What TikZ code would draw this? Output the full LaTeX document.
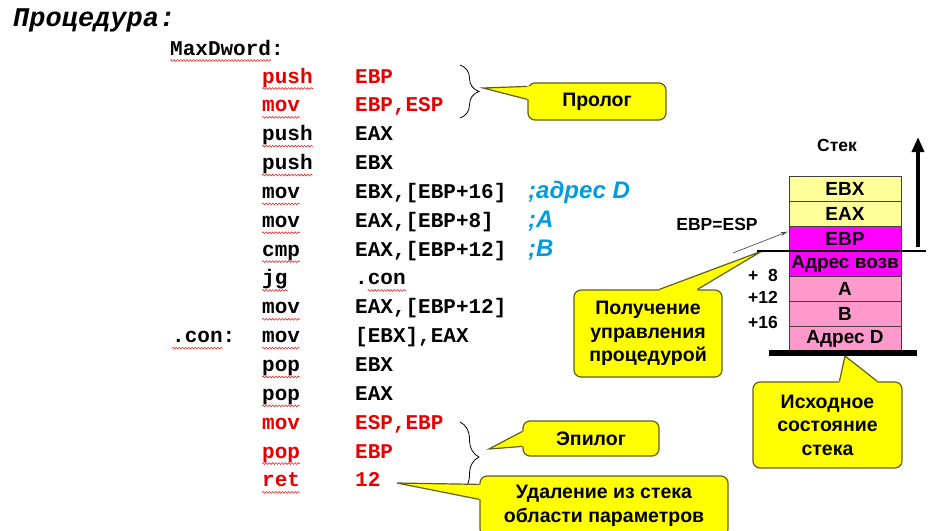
\documentclass[tikz,border=0pt]{standalone}
\usepackage{fontspec}
\setmainfont{Liberation Sans}
\newfontfamily\codefont{Liberation Mono}
\usetikzlibrary{calc,arrows.meta,decorations.pathmorphing,decorations.pathreplacing}

\definecolor{codered}{RGB}{232,0,0}
\definecolor{spellred}{RGB}{235,40,40}
\definecolor{cmtblue}{RGB}{0,156,222}
\definecolor{calloutfill}{RGB}{255,255,0}
\definecolor{calloutline}{RGB}{95,95,25}
\definecolor{cellyellow}{RGB}{255,255,153}
\definecolor{cellmagenta}{RGB}{255,0,255}
\definecolor{cellpink}{RGB}{255,153,204}

\begin{document}
\begin{tikzpicture}[x=1pt,y=-1pt,
  codetxt/.style={anchor=base west,inner sep=0pt,font=\codefont\bfseries\fontsize{21}{21}\selectfont},
  redcode/.style={codetxt,text=codered},
  titletxt/.style={anchor=base west,inner sep=0pt,font=\codefont\bfseries\itshape\fontsize{27}{27}\selectfont},
  cmt/.style={anchor=base west,inner sep=0pt,text=cmtblue,font=\bfseries\itshape\fontsize{24}{24}\selectfont},
  spellwave/.style={draw=spellred,line width=0.6pt,decorate,decoration={snake,amplitude=0.9pt,segment length=3.2pt}},
  codebrace/.style={draw=black,line width=0.8pt,decorate,decoration={brace,amplitude=19pt}},
  callbox/.style={fill=calloutfill,draw=calloutline,line width=1.2pt,rounded corners=7pt,inner sep=0pt,align=center,font=\bfseries\fontsize{19.5}{23.5}\selectfont},
  calledge/.style={draw=calloutline,line width=1.2pt},
  stackcell/.style={draw=black!75,line width=0.7pt,minimum width=112pt,minimum height=25pt,inner sep=0pt,font=\bfseries\fontsize{19}{19}\selectfont},
  stacklabel/.style={inner sep=0pt,font=\bfseries\fontsize{17.5}{17.5}\selectfont},
]
\useasboundingbox (0,0) rectangle (936,530);
\clip (0,0) rectangle (936,530);

% ---------- procedure listing ----------
\node[titletxt] (title) at (13,27) {Процедура:};
\node[codetxt] (lbl) at (170,55) {MaxDword:};

\node[redcode] (op1) at (262,83) {push};
\node[redcode] (arg1) at (355,83) {EBP};
\node[redcode] (op2) at (262,111.85) {mov};
\node[redcode] (arg2) at (355,111.85) {EBP,ESP};
\node[codetxt] (op3) at (262,140.7) {push};
\node[codetxt] (arg3) at (355,140.7) {EAX};
\node[codetxt] (op4) at (262,169.55) {push};
\node[codetxt] (arg4) at (355,169.55) {EBX};
\node[codetxt] (op5) at (262,198.4) {mov};
\node[codetxt] (arg5) at (355,198.4) {EBX,[EBP+16]};
\node[cmt] (cmt5) at (528,198.4) {;адрес D};
\node[codetxt] (op6) at (262,227.25) {mov};
\node[codetxt] (arg6) at (355,227.25) {EAX,[EBP+8]};
\node[cmt] (cmt6) at (528,227.25) {;A};
\node[codetxt] (op7) at (262,256.1) {cmp};
\node[codetxt] (arg7) at (355,256.1) {EAX,[EBP+12]};
\node[cmt] (cmt7) at (528,256.1) {;B};
\node[codetxt] (op8) at (262,284.95) {jg};
\node[codetxt] (arg8) at (355,284.95) {.con};
\node[codetxt] (op9) at (262,313.8) {mov};
\node[codetxt] (arg9) at (355,313.8) {EAX,[EBP+12]};
\node[codetxt] (lbl10) at (172,342.65) {.con:};
\node[codetxt] (op10) at (262,342.65) {mov};
\node[codetxt] (arg10) at (355,342.65) {[EBX],EAX};
\node[codetxt] (op11) at (262,371.5) {pop};
\node[codetxt] (arg11) at (355,371.5) {EBX};
\node[codetxt] (op12) at (262,400.35) {pop};
\node[codetxt] (arg12) at (355,400.35) {EAX};
\node[redcode] (op13) at (262,429.2) {mov};
\node[redcode] (arg13) at (355,429.2) {ESP,EBP};
\node[redcode] (op14) at (262,458.05) {pop};
\node[redcode] (arg14) at (355,458.05) {EBP};
\node[redcode] (op15) at (262,486.9) {ret};
\node[redcode] (arg15) at (355,486.9) {12};

% spell-check waves under the mnemonics
\foreach \n in {op1,op2,op3,op4,op5,op6,op7,op8,op9,op10,op11,op12,op14,op15}
  \draw[spellwave] ([yshift=-5.5pt]\n.base west) -- ([yshift=-5.5pt]\n.base east);
\draw[spellwave] ([yshift=-5.5pt]lbl.base west) -- ([yshift=-5.5pt,xshift=-12.6pt]lbl.base east);
\draw[spellwave] ([yshift=-5.5pt,xshift=12.6pt]arg8.base west) -- ([yshift=-5.5pt]arg8.base east);
\draw[spellwave] ([yshift=-5.5pt]lbl10.base west) -- ([yshift=-5.5pt,xshift=-12.6pt]lbl10.base east);

% braces grouping prologue and epilogue
\coordinate (proTop) at (460,65);
\coordinate (proBot) at (460,118);
\draw[codebrace] (proTop) -- (proBot);
\coordinate (epiTop) at (460,422);
\coordinate (epiBot) at (460,492);
\draw[codebrace] (epiTop) -- (epiBot);

% ---------- callouts ----------
% Prologue
\node[callbox,minimum width=138pt,minimum height=37pt] (prolog) at (597,101.5) {Пролог};
\coordinate (prologTip) at (483,88);
\coordinate (prologA) at ($(prolog.north west)+(0,4)$);
\coordinate (prologB) at ($(prolog.north west)+(0,17)$);
\fill[calloutfill] (prologTip) -- (prologA) -- ($(prologA)+(3,0)$) -- ($(prologB)+(3,0)$) -- (prologB) -- cycle;
\draw[calledge] (prologA) -- (prologTip) -- (prologB);

% Epilogue
\node[callbox,minimum width=136pt,minimum height=35pt] (epilog) at (591,438.5) {Эпилог};
\coordinate (epilogTip) at (489,449);
\coordinate (epilogA) at ($(epilog.north west)+(0,11)$);
\coordinate (epilogB) at ($(epilog.north west)+(0,26)$);
\fill[calloutfill] (epilogTip) -- (epilogA) -- ($(epilogA)+(3,0)$) -- ($(epilogB)+(3,0)$) -- (epilogB) -- cycle;
\draw[calledge] (epilogA) -- (epilogTip) -- (epilogB);

% Parameter removal
\node[callbox,minimum width=248pt,minimum height=60pt] (cleanup) at (604,506) {Удаление из стека\\области параметров};
\coordinate (cleanupTip) at (397,483);
\coordinate (cleanupA) at ($(cleanup.north west)+(0,9)$);
\coordinate (cleanupB) at ($(cleanup.north west)+(0,24)$);
\fill[calloutfill] (cleanupTip) -- (cleanupA) -- ($(cleanupA)+(3,0)$) -- ($(cleanupB)+(3,0)$) -- (cleanupB) -- cycle;
\draw[calledge] (cleanupA) -- (cleanupTip) -- (cleanupB);

% Entering the procedure
\node[callbox,minimum width=148pt,minimum height=87pt] (entry) at (648,333.5) {Получение\\управления\\процедурой};
\coordinate (entryTip) at (762,251);
\coordinate (entryA) at ($(entry.north west)+(86,0)$);
\coordinate (entryB) at ($(entry.north west)+(124,0)$);
\fill[calloutfill] (entryTip) -- (entryA) -- ($(entryA)+(0,3)$) -- ($(entryB)+(0,3)$) -- (entryB) -- cycle;
\draw[calledge] (entryA) -- (entryTip) -- (entryB);

% Initial stack state
\node[callbox,minimum width=149pt,minimum height=86pt] (initial) at (827.5,425) {Исходное\\состояние\\стека};
\coordinate (initialTip) at (845,356);
\coordinate (initialA) at ($(initial.north west)+(87,0)$);
\coordinate (initialB) at ($(initial.north west)+(125,0)$);
\fill[calloutfill] (initialTip) -- (initialA) -- ($(initialA)+(0,3)$) -- ($(initialB)+(0,3)$) -- (initialB) -- cycle;
\draw[calledge] (initialA) -- (initialTip) -- (initialB);

% ---------- stack ----------
\node[stackcell,fill=cellyellow] (s1) at (845,188.5) {EBX};
\node[stackcell,fill=cellyellow] (s2) at (845,213.5) {EAX};
\node[stackcell,fill=cellmagenta] (s3) at (845,238.5) {EBP};
\node[stackcell,fill=cellmagenta] (s4) at (845,263.5) {Адрес возв};
\node[stackcell,fill=cellpink] (s5) at (845,288.5) {A};
\node[stackcell,fill=cellpink] (s6) at (845,313.5) {B};
\node[stackcell,fill=cellpink] (s7) at (845,338.5) {Адрес D};

\node[stacklabel] (stek) at (837,145) {Стек};
\node[stacklabel] (ebpesp) at (717,224) {EBP=ESP};
\node[stacklabel,anchor=base west] (off8) at (748,281) {+\hspace{0.556em}8};
\node[stacklabel,anchor=base west] (off12) at (748,303.5) {+12};
\node[stacklabel,anchor=base west] (off16) at (748,328) {+16};

% frame pointer level and stack bottom
\coordinate (espL) at (757,251);
\coordinate (espR) at (926,251);
\draw[line width=2pt] (espL) -- (espR);
\coordinate (baseL) at (769,353);
\coordinate (baseR) at (917,353);
\draw[line width=6pt] (baseL) -- (baseR);

% growth direction
\coordinate (growS) at (918,247);
\coordinate (growN) at (918,137);
\draw[line width=3.5pt,-{Triangle[length=15pt,width=12pt]}] (growS) -- (growN);

% pointer to the saved EBP slot
\coordinate (ptrS) at (733,253);
\draw[black!70,line width=0.7pt,-{Stealth[length=7pt,width=4pt]}] (ptrS) -- ($(s3.north west)+(-1,6)$);

\end{tikzpicture}
\end{document}
